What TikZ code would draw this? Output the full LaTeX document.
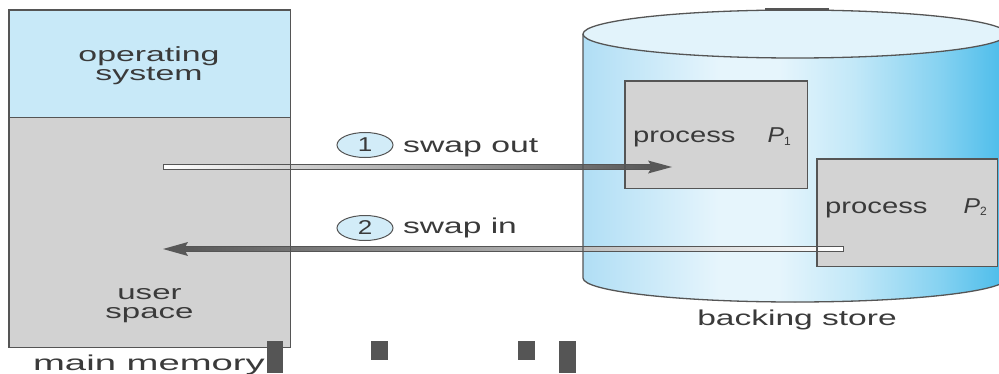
\documentclass[tikz,border=0pt]{standalone}
\usepackage{fontspec}
\setmainfont{Liberation Sans}
\usepackage{graphicx}
\usetikzlibrary{shapes.geometric,calc}
\definecolor{osblue}{HTML}{C8E9F8}
\definecolor{usergray}{HTML}{D2D2D2}
\definecolor{procgray}{HTML}{D3D3D3}
\definecolor{edge}{HTML}{555555}
\definecolor{txt}{HTML}{3A3A3A}
\definecolor{arrowdark}{HTML}{585858}
\definecolor{cylA}{HTML}{B0DEF5}
\definecolor{cylB}{HTML}{E6F5FC}
\definecolor{cylC}{HTML}{C2E8F8}
\definecolor{cylD}{HTML}{86D2F1}
\definecolor{cylE}{HTML}{50BEEB}
\definecolor{captop}{HTML}{E2F3FB}
\definecolor{badge}{HTML}{D2ECF8}
\pgfdeclarehorizontalshading{cylshade}{100bp}{color(0bp)=(cylA); color(25bp)=(cylA); color(41bp)=(cylB); color(48bp)=(cylB); color(57bp)=(cylC); color(67bp)=(cylD); color(74bp)=(cylE); color(100bp)=(cylE)}
\newcommand{\hs}[2]{\scalebox{#1}[1]{#2}}
\newcommand{\subnum}[1]{\raisebox{-2.5pt}{\fontsize{12}{12}\selectfont #1}}

\begin{document}
\begin{tikzpicture}[x=1pt,y=1pt,
  lbl/.style={inner sep=0pt, text=txt, font=\fontsize{21.5}{16}\selectfont},
  stacked/.style={inner sep=0pt, text=txt, font=\fontsize{20.5}{16}\selectfont},
  boxnode/.style={inner sep=0pt, anchor=north west, draw=none},
  border/.style={draw=edge, line width=1.3pt},
  shaft/.style={draw=edge, line width=0.8pt},
  badgenode/.style={ellipse, draw=edge, line width=1pt, fill=badge, minimum width=56pt, minimum height=25pt, inner sep=0pt, text=txt, font=\fontsize{20}{20}\selectfont},
  block/.style={fill=edge}
]
\useasboundingbox (0,0) rectangle (999,373);
\clip (0,0) rectangle (999,373);
\fill[white] (0,0) rectangle (999,373);

% main memory boxes
\node[boxnode, fill=osblue, minimum width=281pt, minimum height=107pt] (os) at (9,363) {};
\node[boxnode, fill=usergray, minimum width=281pt, minimum height=230pt] (user) at (9,256) {};

% backing store cylinder
\fill[shading=cylshade] (583,339) -- (583,95) arc[start angle=180, end angle=360, x radius=212pt, y radius=24pt] -- (1007,339) -- cycle;
\fill[captop] (795,339) ellipse [x radius=212pt, y radius=24pt];

% process boxes
\node[boxnode, fill=procgray, minimum width=182pt, minimum height=107pt] (p1) at (625,292) {};
\node[boxnode, fill=procgray, minimum width=180pt, minimum height=107pt] (p2) at (817,214) {};

% arrows
\coordinate (outS) at (163,206);
\coordinate (outE) at (672,206);
\coordinate (inS) at (843,124);
\coordinate (inE) at (163,124);
\shadedraw[shaft, left color=white, right color=arrowdark] ($(outS)+(0,2.8)$) rectangle ($(outE)+(-21,-2.8)$);
\fill[arrowdark] (outE) -- ++(-24,6.5) -- ++(4,-6.5) -- ++(-4,-6.5) -- cycle;
\shadedraw[shaft, left color=arrowdark, right color=white] ($(inE)+(21,2.8)$) rectangle ($(inS)+(0,-2.8)$);
\fill[arrowdark] (inE) -- ++(25,7) -- ++(-4,-7) -- ++(4,-7) -- cycle;

% borders on top
\draw[border] (os.north west) rectangle (user.south east);
\draw[border] (os.south west) -- (os.south east);
\draw[border] (583,339) -- (583,95) arc[start angle=180, end angle=360, x radius=212pt, y radius=24pt] -- (1007,339);
\draw[border] (795,339) ellipse [x radius=212pt, y radius=24pt];
\draw[border] (p1.north west) rectangle (p1.south east);
\draw[border] (p2.north west) rectangle (p2.south east);

% texts
\node[stacked, anchor=base] (ostext1) at (149,311) {\hs{1.65}{operating}};
\node[stacked, anchor=base] (ostext2) at (149,292) {\hs{1.65}{system}};
\node[stacked, anchor=base] (usertext1) at (149.5,74) {\hs{1.61}{user}};
\node[stacked, anchor=base] (usertext2) at (149.5,55) {\hs{1.61}{space}};
\node[lbl, anchor=base] (mmtext) at (149,3) {\hs{1.78}{main memory}};
\node[lbl, anchor=base] (bstext) at (797,48) {\hs{1.56}{backing store}};
\node[lbl, anchor=base west] (p1text) at (633,230) {\hs{1.36}{process}\hspace{32pt}\hs{1.15}{\itshape P}\subnum{1}};
\node[lbl, anchor=base west] (p2text) at (825,160) {\hs{1.36}{process}\hspace{36pt}\hs{1.15}{\itshape P}\subnum{2}};

\node[badgenode] (b1) at (365,228) {\hs{1.3}{1}};
\node[badgenode] (b2) at (365,145) {\hs{1.3}{2}};
\node[lbl, anchor=base west] (swout) at (403,221) {\hs{1.57}{swap out}};
\node[lbl, anchor=base west] (swin) at (403,140) {\hs{1.56}{swap in}};

% dark blocks
\fill[block] (267,0) rectangle (283,32);
\fill[block] (371,13) rectangle (388,32);
\fill[block] (518,13) rectangle (535,32);
\fill[block] (559,0) rectangle (576,32);
\fill[block] (765,362) rectangle (829,365);
\end{tikzpicture}
\end{document}
